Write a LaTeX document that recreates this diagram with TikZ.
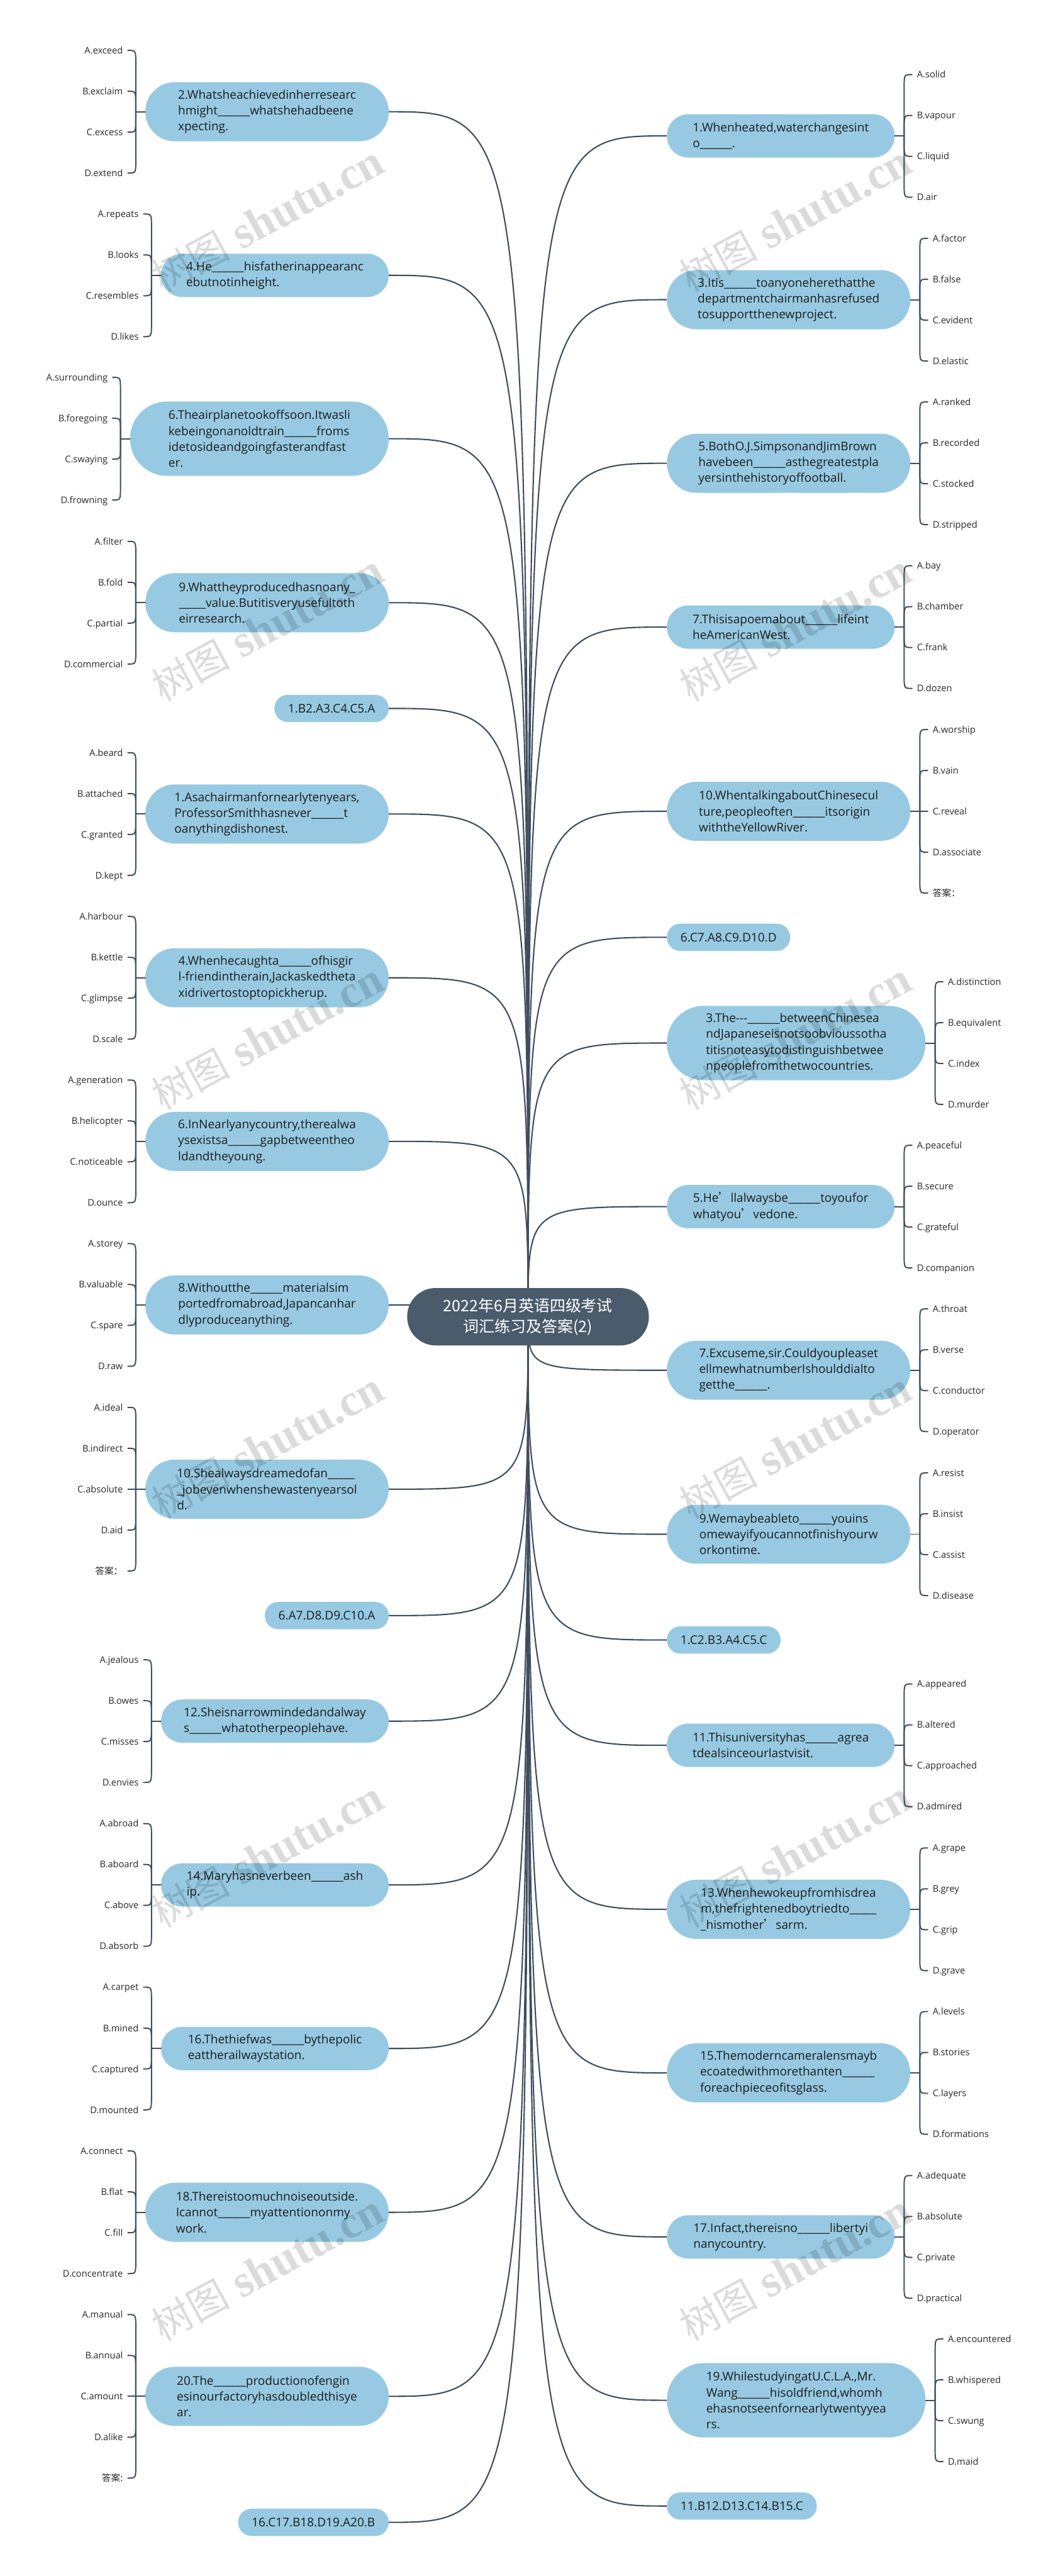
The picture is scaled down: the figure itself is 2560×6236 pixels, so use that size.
\documentclass[tikz,border=0pt]{standalone}
\usepackage{fontspec}
\setmainfont{Open Sans}
\newfontfamily\cjk{Noto Sans CJK SC}
\newfontfamily\wmlatin{Liberation Serif}
\usetikzlibrary{calc,backgrounds}
\definecolor{boxblue}{RGB}{151,202,226}
\definecolor{rootc}{RGB}{74,91,107}
\definecolor{linec}{RGB}{62,78,94}
\definecolor{qtext}{RGB}{28,28,28}
\definecolor{otext}{RGB}{40,40,40}
\newcommand\qfnt{\fontsize{29pt}{38.5pt}\selectfont}
\newcommand\ofnt{\fontsize{22.3pt}{26pt}\selectfont}
\newcommand\myblank{\_\_\_\_\_\_}
% four options, left side
\newcommand\optsL[5]{%
  \coordinate (#1j) at ($(#1.west)+(-23,0)$);
  \draw[conn] (#1.west) -- (#1j);
  \node[optl] (#1a) at ($(#1.west)+(-42,-148.5)$) {#2};
  \node[optl] (#1b) at ($(#1.west)+(-42,-49.5)$) {#3};
  \node[optl] (#1c) at ($(#1.west)+(-42,49.5)$) {#4};
  \node[optl] (#1d) at ($(#1.west)+(-42,148.5)$) {#5};
  \draw[conn] (#1j) -- ($(#1j |- #1a.east)+(0,30)$) .. controls (#1j |- #1a.east) .. (#1a.east);
  \draw[conn] (#1j) -- ($(#1j |- #1b.east)+(0,30)$) .. controls (#1j |- #1b.east) .. (#1b.east);
  \draw[conn] (#1j) -- ($(#1j |- #1c.east)+(0,-30)$) .. controls (#1j |- #1c.east) .. (#1c.east);
  \draw[conn] (#1j) -- ($(#1j |- #1d.east)+(0,-30)$) .. controls (#1j |- #1d.east) .. (#1d.east);
}
% five options, left side
\newcommand\optsLfive[6]{%
  \coordinate (#1j) at ($(#1.west)+(-23,0)$);
  \draw[conn] (#1.west) -- (#1j);
  \node[optl] (#1a) at ($(#1.west)+(-42,-198)$) {#2};
  \node[optl] (#1b) at ($(#1.west)+(-42,-99)$) {#3};
  \node[optl] (#1c) at ($(#1.west)+(-42,0)$) {#4};
  \node[optl] (#1d) at ($(#1.west)+(-42,99)$) {#5};
  \node[optl] (#1e) at ($(#1.west)+(-42,198)$) {#6};
  \draw[conn] (#1j) -- ($(#1j |- #1a.east)+(0,30)$) .. controls (#1j |- #1a.east) .. (#1a.east);
  \draw[conn] (#1j) -- ($(#1j |- #1b.east)+(0,30)$) .. controls (#1j |- #1b.east) .. (#1b.east);
  \draw[conn] (#1j) -- (#1c.east);
  \draw[conn] (#1j) -- ($(#1j |- #1d.east)+(0,-30)$) .. controls (#1j |- #1d.east) .. (#1d.east);
  \draw[conn] (#1j) -- ($(#1j |- #1e.east)+(0,-30)$) .. controls (#1j |- #1e.east) .. (#1e.east);
}
% four options, right side
\newcommand\optsR[5]{%
  \coordinate (#1j) at ($(#1.east)+(23,0)$);
  \draw[conn] (#1.east) -- (#1j);
  \node[optr] (#1a) at ($(#1.east)+(42,-148.5)$) {#2};
  \node[optr] (#1b) at ($(#1.east)+(42,-49.5)$) {#3};
  \node[optr] (#1c) at ($(#1.east)+(42,49.5)$) {#4};
  \node[optr] (#1d) at ($(#1.east)+(42,148.5)$) {#5};
  \draw[conn] (#1j) -- ($(#1j |- #1a.west)+(0,30)$) .. controls (#1j |- #1a.west) .. (#1a.west);
  \draw[conn] (#1j) -- ($(#1j |- #1b.west)+(0,30)$) .. controls (#1j |- #1b.west) .. (#1b.west);
  \draw[conn] (#1j) -- ($(#1j |- #1c.west)+(0,-30)$) .. controls (#1j |- #1c.west) .. (#1c.west);
  \draw[conn] (#1j) -- ($(#1j |- #1d.west)+(0,-30)$) .. controls (#1j |- #1d.west) .. (#1d.west);
}
% five options, right side
\newcommand\optsRfive[6]{%
  \coordinate (#1j) at ($(#1.east)+(23,0)$);
  \draw[conn] (#1.east) -- (#1j);
  \node[optr] (#1a) at ($(#1.east)+(42,-198)$) {#2};
  \node[optr] (#1b) at ($(#1.east)+(42,-99)$) {#3};
  \node[optr] (#1c) at ($(#1.east)+(42,0)$) {#4};
  \node[optr] (#1d) at ($(#1.east)+(42,99)$) {#5};
  \node[optr] (#1e) at ($(#1.east)+(42,198)$) {#6};
  \draw[conn] (#1j) -- ($(#1j |- #1a.west)+(0,30)$) .. controls (#1j |- #1a.west) .. (#1a.west);
  \draw[conn] (#1j) -- ($(#1j |- #1b.west)+(0,30)$) .. controls (#1j |- #1b.west) .. (#1b.west);
  \draw[conn] (#1j) -- (#1c.west);
  \draw[conn] (#1j) -- ($(#1j |- #1d.west)+(0,-30)$) .. controls (#1j |- #1d.west) .. (#1d.west);
  \draw[conn] (#1j) -- ($(#1j |- #1e.west)+(0,-30)$) .. controls (#1j |- #1e.west) .. (#1e.west);
}
\newcommand\wmtext{{\cjk\fontsize{95pt}{100pt}\selectfont 树图}{\wmlatin\bfseries\fontsize{110pt}{115pt}\selectfont\ shutu.cn}}
\begin{document}
\begin{tikzpicture}[x=1pt,y=-1pt,
  conn/.style={draw=linec, line width=3pt, line cap=round},
  mainline/.style={draw=linec, line width=3.2pt},
  qbox/.style={fill=boxblue, draw=none, align=left, inner sep=0pt, font=\qfnt, text=qtext},
  qtwo/.style={qbox, minimum width=551pt, minimum height=105pt, rounded corners=52pt},
  qthree/.style={qbox, minimum width=589pt, minimum height=143pt, rounded corners=71pt},
  qfour/.style={qbox, minimum width=626pt, minimum height=180pt, rounded corners=89.5pt},
  ans/.style={fill=boxblue, draw=none, inner xsep=33pt, inner ysep=0pt, minimum height=66pt, rounded corners=32.5pt, font=\qfnt, text=qtext},
  optl/.style={anchor=east, inner xsep=12pt, inner ysep=0pt, text height=16pt, text depth=0pt, font=\ofnt, text=otext},
  optr/.style={anchor=west, inner xsep=12pt, inner ysep=0pt, text height=16pt, text depth=0pt, font=\ofnt, text=otext},
  rootbox/.style={fill=rootc, draw=none, text=white, align=center, minimum width=585pt, minimum height=139pt, rounded corners=69pt, inner sep=0pt, font=\cjk\fontsize{38pt}{50pt}\selectfont},
  wm/.style={rotate=28.5, inner sep=0pt, text=black, text opacity=0.14}
]
\useasboundingbox (0,0) rectangle (2560,6236);

% ---------- root ----------
\node[rootbox] (root) at (1278,3187.5) {2022年6月英语四级考试\\词汇练习及答案(2)};

% ---------- left question boxes ----------
\node[qthree, anchor=east] (qa) at (941,270.5) {2.Whatsheachievedinherresearc\\hmight\myblank whatshehadbeene\\xpecting.};
\node[qtwo, anchor=east] (qb) at (941,666.5) {4.He\myblank hisfatherinappearanc\\ebutnotinheight.};
\node[qfour, anchor=east] (qc) at (941,1062) {6.Theairplanetookoffsoon.Itwasli\\kebeingonanoldtrain\myblank froms\\idetosideandgoingfasterandfast\\er.};
\node[qthree, anchor=east] (qd) at (941,1459) {9.Whattheyproducedhasnoany\_\\\_\_\_\_\_value.Butitisveryusefultoth\\eirresearch.};
\node[ans, anchor=east] (ansa) at (941,1715) {1.B2.A3.C4.C5.A};
\node[qthree, anchor=east] (qe) at (941,1970.5) {1.Asachairmanfornearlytenyears,\\ProfessorSmithhasnever\myblank t\\oanythingdishonest.};
\node[qthree, anchor=east] (qf) at (941,2367) {4.Whenhecaughta\myblank ofhisgir\\l-friendintherain,Jackaskedtheta\\xidrivertostoptopickherup.};
\node[qthree, anchor=east] (qg) at (941,2763) {6.InNearlyanycountry,therealwa\\ysexistsa\myblank gapbetweentheo\\ldandtheyoung.};
\node[qthree, anchor=east] (qh) at (941,3159) {8.Withoutthe\myblank materialsim\\portedfromabroad,Japancanhar\\dlyproduceanything.};
\node[qthree, anchor=east] (qi) at (941,3605) {10.Shealwaysdreamedofan\_\_\_\_\_\\\_jobevenwhenshewastenyearsol\\d.};
\node[ans, anchor=east] (ansb) at (941,3911) {6.A7.D8.D9.C10.A};
\node[qtwo, anchor=east] (qj) at (941,4166.5) {12.Sheisnarrowmindedandalway\\s\myblank whatotherpeoplehave.};
\node[qtwo, anchor=east] (qk) at (941,4563) {14.Maryhasneverbeen\myblank ash\\ip.};
\node[qtwo, anchor=east] (ql) at (941,4959) {16.Thethiefwas\myblank bythepolic\\eattherailwaystation.};
\node[qthree, anchor=east] (qm) at (941,5355.5) {18.Thereistoomuchnoiseoutside.\\Icannot\myblank myattentiononmy\\work.};
\node[qthree, anchor=east] (qn) at (941,5801) {20.The\myblank productionofengin\\esinourfactoryhasdoubledthisye\\ar.};
\node[ans, anchor=east] (ansc) at (941,6106) {16.C17.B18.D19.A20.B};

% ---------- right question boxes ----------
\node[qtwo, anchor=west] (ra) at (1614,329) {1.Whenheated,waterchangesint\\o\myblank.};
\node[qthree, anchor=west] (rb) at (1614,725.5) {3.Itis\myblank toanyoneherethatthe\\departmentchairmanhasrefused\\tosupportthenewproject.};
\node[qthree, anchor=west] (rc) at (1614,1121.5) {5.BothO.J.SimpsonandJimBrown\\havebeen\myblank asthegreatestpla\\yersinthehistoryoffootball.};
\node[qtwo, anchor=west] (rd) at (1614,1518) {7.Thisisapoemabout\myblank lifeint\\heAmericanWest.};
\node[qthree, anchor=west] (re) at (1614,1964) {10.WhentalkingaboutChinesecul\\ture,peopleoften\myblank itsorigin\\withtheYellowRiver.};
\node[ans, anchor=west] (ransa) at (1614,2269) {6.C7.A8.C9.D10.D};
\node[qfour, anchor=west] (rf) at (1614,2525) {3.The-{}-{}-\myblank betweenChinesea\\ndJapaneseisnotsoobvioussotha\\titisnoteasytodistinguishbetwee\\npeoplefromthetwocountries.};
\node[qtwo, anchor=west] (rg) at (1614,2921) {5.He{\cjk ’}llalwaysbe\myblank toyoufor\\whatyou{\cjk ’}vedone.};
\node[qthree, anchor=west] (rh) at (1614,3317) {7.Excuseme,sir.Couldyoupleaset\\ellmewhatnumberIshoulddialto\\getthe\myblank.};
\node[qthree, anchor=west] (ri) at (1614,3714) {9.Wemaybeableto\myblank youins\\omewayifyoucannotfinishyourw\\orkontime.};
\node[ans, anchor=west] (ransb) at (1614,3970) {1.C2.B3.A4.C5.C};
\node[qtwo, anchor=west] (rj) at (1614,4225) {11.Thisuniversityhas\myblank agrea\\tdealsinceourlastvisit.};
\node[qthree, anchor=west] (rk) at (1614,4622) {13.Whenhewokeupfromhisdrea\\m,thefrightenedboytriedto\_\_\_\_\_\\\_hismother{\cjk ’}sarm.};
\node[qthree, anchor=west] (rl) at (1614,5018) {15.Themoderncameralensmayb\\ecoatedwithmorethanten\myblank\\foreachpieceofitsglass.};
\node[qtwo, anchor=west] (rm) at (1614,5415) {17.Infact,thereisno\myblank libertyi\\nanycountry.};
\node[qfour, anchor=west] (rn) at (1614,5810.5) {19.WhilestudyingatU.C.L.A.,Mr.\\Wang\myblank hisoldfriend,whomh\\ehasnotseenfornearlytwentyyea\\rs.};
\node[ans, anchor=west] (ransc) at (1614,6066.5) {11.B12.D13.C14.B15.C};

% ---------- options ----------
\optsL{qa}{A.exceed}{B.exclaim}{C.excess}{D.extend}
\optsL{qb}{A.repeats}{B.looks}{C.resembles}{D.likes}
\optsL{qc}{A.surrounding}{B.foregoing}{C.swaying}{D.frowning}
\optsL{qd}{A.filter}{B.fold}{C.partial}{D.commercial}
\optsL{qe}{A.beard}{B.attached}{C.granted}{D.kept}
\optsL{qf}{A.harbour}{B.kettle}{C.glimpse}{D.scale}
\optsL{qg}{A.generation}{B.helicopter}{C.noticeable}{D.ounce}
\optsL{qh}{A.storey}{B.valuable}{C.spare}{D.raw}
\optsLfive{qi}{A.ideal}{B.indirect}{C.absolute}{D.aid}{{\cjk 答案：}}
\optsL{qj}{A.jealous}{B.owes}{C.misses}{D.envies}
\optsL{qk}{A.abroad}{B.aboard}{C.above}{D.absorb}
\optsL{ql}{A.carpet}{B.mined}{C.captured}{D.mounted}
\optsL{qm}{A.connect}{B.flat}{C.fill}{D.concentrate}
\optsLfive{qn}{A.manual}{B.annual}{C.amount}{D.alike}{{\cjk 答案:}}

\optsR{ra}{A.solid}{B.vapour}{C.liquid}{D.air}
\optsR{rb}{A.factor}{B.false}{C.evident}{D.elastic}
\optsR{rc}{A.ranked}{B.recorded}{C.stocked}{D.stripped}
\optsR{rd}{A.bay}{B.chamber}{C.frank}{D.dozen}
\optsRfive{re}{A.worship}{B.vain}{C.reveal}{D.associate}{{\cjk 答案：}}
\optsR{rf}{A.distinction}{B.equivalent}{C.index}{D.murder}
\optsR{rg}{A.peaceful}{B.secure}{C.grateful}{D.companion}
\optsR{rh}{A.throat}{B.verse}{C.conductor}{D.operator}
\optsR{ri}{A.resist}{B.insist}{C.assist}{D.disease}
\optsR{rj}{A.appeared}{B.altered}{C.approached}{D.admired}
\optsR{rk}{A.grape}{B.grey}{C.grip}{D.grave}
\optsR{rl}{A.levels}{B.stories}{C.layers}{D.formations}
\optsR{rm}{A.adequate}{B.absolute}{C.private}{D.practical}
\optsR{rn}{A.encountered}{B.whispered}{C.swung}{D.maid}

% ---------- main connectors (behind the boxes) ----------
\begin{scope}[on background layer]
\fill[white] (0,0) rectangle (2560,6236);
\foreach \n in {qa,qb,qc,qd,ansa,qe,qf,qg,qh,qi,ansb,qj,qk,ql,qm,qn,ansc}
  \draw[mainline] (root.center) .. controls (root.center |- \n.east) .. (\n.east);
\foreach \n in {ra,rb,rc,rd,re,ransa,rf,rg,rh,ri,ransb,rj,rk,rl,rm,rn,ransc}
  \draw[mainline] (root.center) .. controls (root.center |- \n.west) .. (\n.west);
\end{scope}

% ---------- watermarks ----------
\foreach \wy [count=\i] in {530,1520,2510,3500,4490,5490}{
  \node[wm] (wml\i) at (648,\wy) {\wmtext};
  \node[wm] (wmr\i) at (1925,\wy) {\wmtext};
}
\end{tikzpicture}
\end{document}
